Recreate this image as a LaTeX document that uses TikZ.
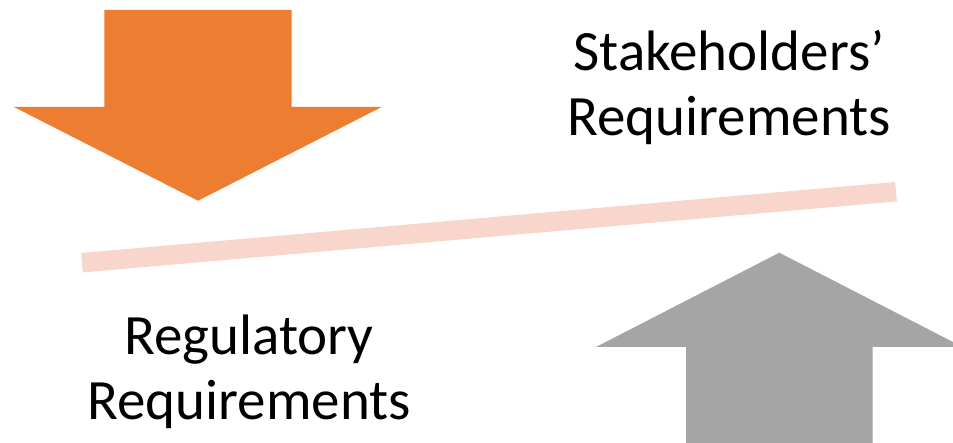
\documentclass[tikz,border=0pt]{standalone}
\usepackage{fontspec}
\setmainfont{Carlito}
\definecolor{arroworange}{HTML}{ED7D31}
\definecolor{arrowgray}{HTML}{A5A5A5}
\definecolor{barpink}{HTML}{F8D6CB}
\begin{document}
\begin{tikzpicture}[x=1pt,y=-1pt,
  label/.style={font=\fontsize{57}{65}\selectfont, inner sep=0pt, align=center, anchor=base}]
\useasboundingbox (0,0) rectangle (953,443);
% orange down arrow
\fill[arroworange] (104.3,10) -- (291.7,10) -- (291.7,107) -- (381.7,107)
  -- (198,200.7) -- (14,107) -- (104.3,107) -- cycle;
% gray up arrow
\fill[arrowgray] (686,443) -- (686,347) -- (596,347) -- (779.3,252.7)
  -- (955,343) -- (955,347) -- (872.7,347) -- (872.7,443) -- cycle;
% pink balance bar
\coordinate (barL) at (82,262.7);
\coordinate (barR) at (896,191.7);
\draw[barpink, line width=19.5pt] (barL) -- (barR);
% labels (base anchor = baseline of the last line)
\node[label] (stake) at (729,136) {Stakeholders’\\Requirements};
\node[label] (reg) at (249,419.3) {Regulatory\\Requirements};
\end{tikzpicture}
\end{document}
